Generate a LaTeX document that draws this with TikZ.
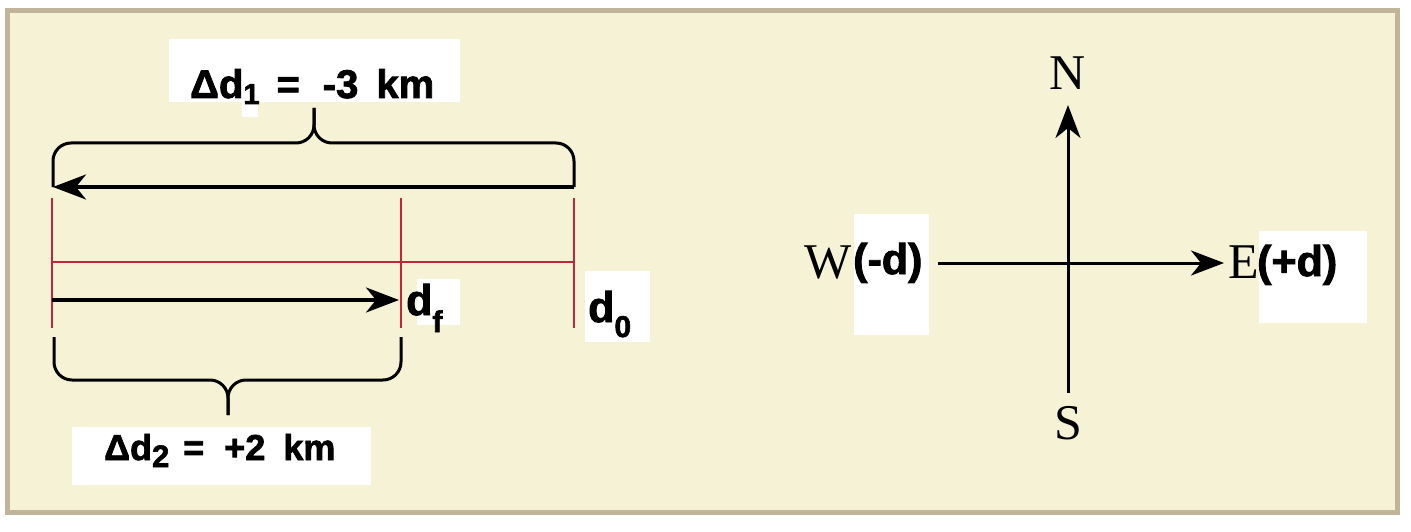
\documentclass[tikz,border=0pt]{standalone}
\usepackage{fontspec}
\setmainfont{Liberation Serif}
\newfontfamily\labfont{Liberation Sans}[BoldFeatures={FakeBold=2}]
\usetikzlibrary{arrows.meta}
\definecolor{cream}{HTML}{F5F2D5}
\definecolor{framec}{HTML}{C0B59A}
\definecolor{tickred}{HTML}{C4253B}
\newcommand\mysub[3]{\raisebox{-#2pt}{\fontsize{#1}{#1}\selectfont #3}}
\begin{document}
\begin{tikzpicture}[x=1pt,y=-1pt,
  arr/.style={line width=3.5pt,-{Stealth[length=33pt,width=25pt,inset=10pt]}},
  bracepath/.style={line width=3pt,rounded corners=18pt},
  tickline/.style={line width=2.5pt,draw=tickred},
  whitebox/.style={fill=white},
  lab/.style={font=\labfont\bfseries\fontsize{40}{44}\selectfont,inner sep=0pt},
  labsmall/.style={font=\labfont\bfseries\fontsize{36}{42}\selectfont,inner sep=0pt},
  dlab/.style={font=\labfont\bfseries\fontsize{43}{47}\selectfont,inner sep=0pt},
  compass/.style={font=\fontsize{50}{56}\selectfont,inner sep=0pt}]
\useasboundingbox (0,0) rectangle (1411,532);
% frame
\draw[line width=5pt,draw=framec,fill=cream] (7,11) rectangle (1397,512);

% white label backgrounds
\fill[whitebox] (169,39) rectangle (460,102);
\fill[whitebox] (242,102) rectangle (258,117);
\fill[whitebox] (72,427) rectangle (371,485);
\fill[whitebox] (417,279) rectangle (460,325);
\fill[whitebox] (585,271) rectangle (650,342);
\fill[whitebox] (854,214) rectangle (929,335);
\fill[whitebox] (1259,231) rectangle (1367,323);

% coordinates
\coordinate (Ltop) at (52,198);
\coordinate (Lbot) at (52,328);
\coordinate (Mtop) at (401,198);
\coordinate (Mbot) at (401,328);
\coordinate (Rtop) at (574,198);
\coordinate (Rbot) at (574,328);
\coordinate (Lmid) at (52,262);
\coordinate (Rmid) at (574,262);

% red number line
\draw[tickline] (Ltop) -- (Lbot);
\draw[tickline] (Mtop) -- (Mbot);
\draw[tickline] (Rtop) -- (Rbot);
\draw[tickline] (Lmid) -- (Rmid);

% arrows
\coordinate (a1s) at (574,187);
\coordinate (a1e) at (53,187);
\draw[arr] (a1s) -- (a1e);
\coordinate (a2s) at (52,300);
\coordinate (a2e) at (399,300);
\draw[arr] (a2s) -- (a2e);

% top brace
\coordinate (b1tip) at (314,108);
\draw[bracepath] (53,187) |- (314,143) -- (b1tip);
\draw[bracepath] (574,187) |- (314,143) -- (b1tip);
% bottom brace
\coordinate (b2tip) at (228,415);
\draw[bracepath] (54,337) |- (228,380) -- (b2tip);
\draw[bracepath] (401,337) |- (228,380) -- (b2tip);

% labels
\node[lab,anchor=base west] (d1) at (190,98) {Δd\mysub{29}{6}{1}\hspace{17pt}=\hspace{23pt}-3\hspace{18pt}km};
\node[labsmall,anchor=base west] (d2) at (104,460) {Δd\mysub{31}{7}{2}\hspace{14pt}=\hspace{20pt}+2\hspace{18pt}km};
\node[dlab,anchor=base west] (df) at (406,315) {d\mysub{30}{17}{f}};
\node[dlab,anchor=base west] (d0) at (588,322) {d\mysub{30}{15}{0}};

% compass
\coordinate (Sx) at (1068,393);
\coordinate (Nx) at (1068,105);
\coordinate (Wx) at (938,263);
\coordinate (Ex) at (1224,263);
\draw[arr,line width=3pt] (Wx) -- (Ex);
\draw[arr,line width=3pt] (Sx) -- (Nx);
\node[compass,anchor=base] (N) at (1068,90) {N};
\node[compass,anchor=base] (S) at (1068,439) {S};
\node[compass,anchor=base east] (W) at (852,278) {W};
\node[dlab,anchor=base west] (Wd) at (853,274) {(-d)};
\node[compass,anchor=base west] (E) at (1228,278) {E};
\node[dlab,anchor=base west] (Ed) at (1257,276) {(+d)};
\end{tikzpicture}
\end{document}
